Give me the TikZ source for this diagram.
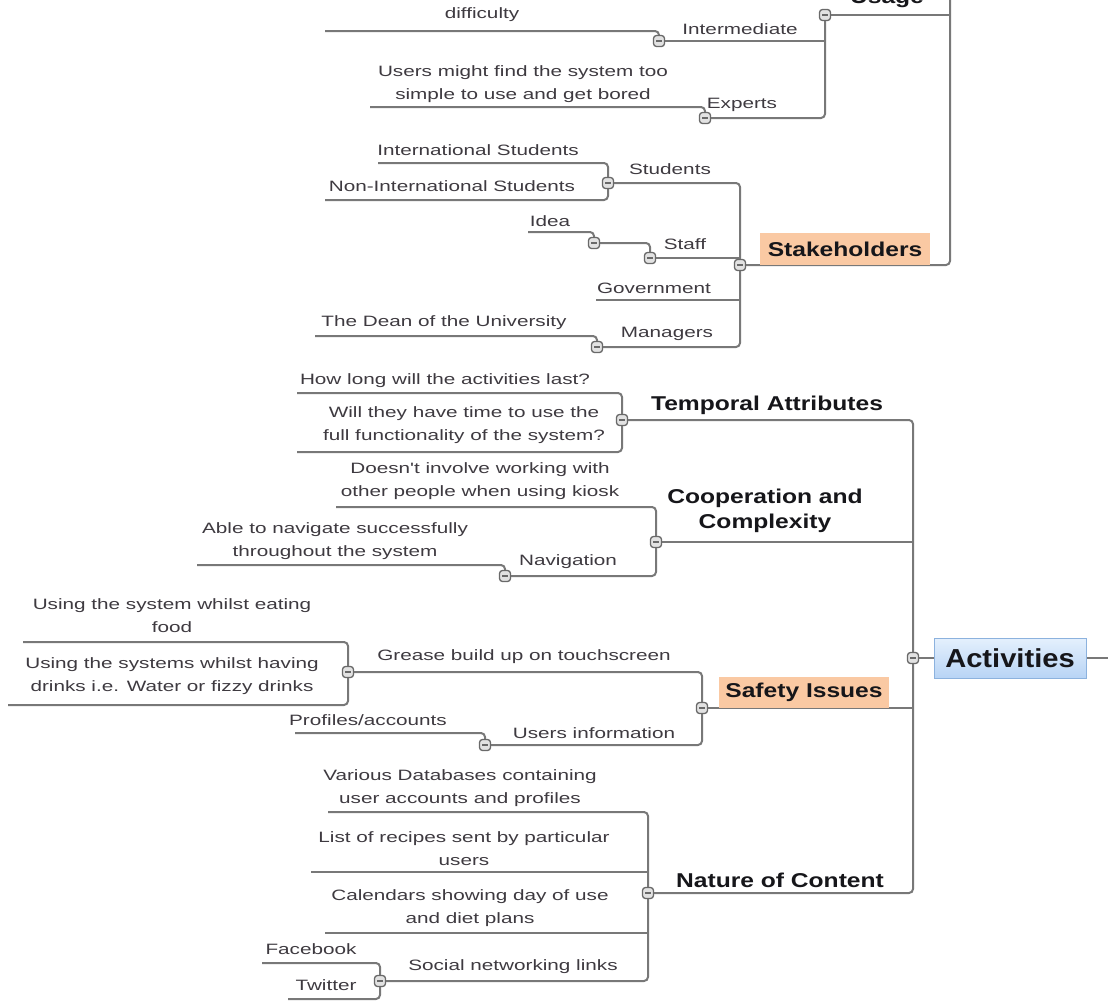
\documentclass[tikz,border=0pt]{standalone}
\usepackage{fontspec}
\newfontfamily\lblfont[FakeStretch=1.38]{Liberation Sans}
\newfontfamily\hdfont[FakeStretch=1.23]{Liberation Sans}
\newfontfamily\actfont[FakeStretch=1.12]{Liberation Sans}
\definecolor{linec}{RGB}{120,120,120}
\definecolor{labelc}{RGB}{62,58,64}
\definecolor{headc}{RGB}{22,22,26}
\definecolor{peach}{RGB}{250,201,163}
\definecolor{btnfill}{RGB}{226,226,226}
\definecolor{btnline}{RGB}{105,105,105}
\definecolor{acttop}{RGB}{228,240,253}
\definecolor{actbot}{RGB}{184,212,245}
\definecolor{actline}{RGB}{140,178,222}
\pgfdeclarelayer{bg}
\pgfsetlayers{bg,main}
\tikzset{
  lbl/.style={font={\fontsize{15}{23}\lblfont}, text=labelc, align=center, inner sep=0pt},
  hd/.style={font={\fontsize{20}{25}\hdfont\bfseries}, text=headc, align=center, inner sep=0pt},
  peachbox/.style={hd, fill=peach, minimum width=170pt, minimum height=32pt},
  ln/.style={draw=linec, line width=2pt, rounded corners=4pt},
  btn/.style={draw=btnline, fill=btnfill, line width=1.3pt, rounded corners=3pt,
    minimum width=11pt, minimum height=11pt, inner sep=0pt,
    path picture={\draw[btnline, line width=1.2pt]
      ([xshift=-2.8pt]path picture bounding box.center) --
      ([xshift=2.8pt]path picture bounding box.center);}},
}
\begin{document}
\begin{tikzpicture}[x=1pt,y=-1pt]
\useasboundingbox (0,0) rectangle (1108,1001);
\clip (0,0) rectangle (1108,1001);
\begin{pgfonlayer}{bg}
  \fill[white] (0,0) rectangle (1108,1001);
\end{pgfonlayer}

% ---------- collapse buttons ----------
\node[btn] (bUsage)  at (825,15)  {};
\node[btn] (bInter)  at (659,41)  {};
\node[btn] (bExp)    at (705,118) {};
\node[btn] (bStud)   at (608,183) {};
\node[btn] (bIdea)   at (594,243) {};
\node[btn] (bStaff)  at (650,258) {};
\node[btn] (bStake)  at (740,265) {};
\node[btn] (bMgr)    at (597,347) {};
\node[btn] (bTemp)   at (622,420) {};
\node[btn] (bCoop)   at (656,542) {};
\node[btn] (bNav)    at (505,576) {};
\node[btn] (bAct)    at (913,658) {};
\node[btn] (bGrease) at (348,672) {};
\node[btn] (bSafety) at (702,708) {};
\node[btn] (bUsers)  at (485,745) {};
\node[btn] (bNature) at (648,893) {};
\node[btn] (bSocial) at (380,981) {};

% ---------- topic labels ----------
\node[hd, anchor=base] (usage) at (887,3) {Usage};
\node[lbl] (diff)  at (482,15)  {difficulty};
\node[lbl] (inter) at (740,29)  {Intermediate};
\node[lbl] (bored) at (523,84)  {Users might find the system too\\simple to use and get bored};
\node[lbl] (exp)   at (742,105) {Experts};

\node[lbl] (intl)  at (478,150) {International Students};
\node[lbl] (stud)  at (670,169) {Students};
\node[lbl] (nonintl) at (452,186) {Non-International Students};
\node[lbl] (idea)  at (550,221) {Idea};
\node[lbl] (staff) at (685,244) {Staff};
\node[peachbox] (stake) at (845,249) {Stakeholders};
\node[lbl] (gov)   at (654,288) {Government};
\node[lbl] (dean)  at (444,323) {The Dean of the University};
\node[lbl] (mgr)   at (667,334) {Managers};

\node[lbl] (howlong) at (445,381) {How long will the activities last?};
\node[lbl] (time)  at (464,425) {Will they have time to use the\\full functionality of the system?};
\node[hd]  (temp)  at (767,405) {Temporal Attributes};

\node[lbl] (alone) at (480,481) {Doesn't involve working with\\other people when using kiosk};
\node[hd]  (coop)  at (765,511) {Cooperation and\\Complexity};
\node[lbl] (able)  at (335,541) {Able to navigate successfully\\throughout the system};
\node[lbl] (nav)   at (568,562) {Navigation};

\node[lbl] (food)  at (172,616) {Using the system whilst eating\\food};
\node[lbl] (drink) at (172,676) {Using the systems whilst having\\drinks i.e. Water or fizzy drinks};
\node[lbl] (grease) at (524,657) {Grease build up on touchscreen};
\node[peachbox, minimum height=31pt] (safety) at (804,692) {Safety Issues};
\node[lbl] (prof)  at (368,720) {Profiles/accounts};
\node[lbl] (uinfo) at (594,733) {Users information};

\node[font={\fontsize{26}{30}\actfont\bfseries}, text=headc, inner sep=0pt,
      draw=actline, line width=1pt, top color=acttop, bottom color=actbot,
      minimum width=152pt, minimum height=40pt] (act) at (1010,658) {Activities};

\node[lbl] (db)    at (460,788) {Various Databases containing\\user accounts and profiles};
\node[lbl] (recipe) at (464,849) {List of recipes sent by particular\\users};
\node[lbl] (cal)   at (470,908) {Calendars showing day of use\\and diet plans};
\node[hd]  (nature) at (780,880) {Nature of Content};
\node[lbl] (fb)    at (311,949) {Facebook};
\node[lbl] (social) at (513,967) {Social networking links};
\node[lbl] (tw)    at (326,985) {Twitter};

% ---------- free ends of underlines ----------
\coordinate (topR)   at (950,-10);
\coordinate (usageR) at (950,15);
\coordinate (interR) at (825,41);
\coordinate (diffL)  at (325,31);
\coordinate (boredL) at (370,107);
\coordinate (intlL)  at (378,163);
\coordinate (nonL)   at (325,200);
\coordinate (ideaL)  at (528,232);
\coordinate (staffR) at (740,258);
\coordinate (govL)   at (596,300);
\coordinate (govR)   at (740,300);
\coordinate (deanL)  at (315,336);
\coordinate (howL)   at (297,393);
\coordinate (timeL)  at (297,452);
\coordinate (coopR)  at (913,542);
\coordinate (aloneL) at (336,507);
\coordinate (ableL)  at (197,565);
\coordinate (foodL)  at (23,642);
\coordinate (drinkL) at (8,705);
\coordinate (safeR)  at (913,708);
\coordinate (profL)  at (295,733);
\coordinate (actR)   at (1115,658);
\coordinate (dbL)    at (328,812);
\coordinate (recL)   at (311,872);
\coordinate (recR)   at (648,872);
\coordinate (calL)   at (325,933);
\coordinate (calR)   at (648,933);
\coordinate (fbL)    at (262,963);
\coordinate (twL)    at (288,999);

% ---------- connectors and underlines ----------
\begin{pgfonlayer}{bg}
  % Usage branch
  \draw[ln] (bStake.east) -| (topR);
  \draw[ln] (bUsage.east) -- (usageR);
  \draw[ln] (bUsage.south) |- (bExp.east);
  \draw[ln] (bInter.east) -- (interR);
  \draw[ln] (diffL) -| (bInter.north);
  \draw[ln] (boredL) -| (bExp.north);
  % Stakeholders branch
  \draw[ln] (bStud.east) -| (bStake.north);
  \draw[ln] (bMgr.east) -| (bStake.south);
  \draw[ln] (intlL) -| (bStud.north);
  \draw[ln] (nonL) -| (bStud.south);
  \draw[ln] (bStaff.east) -- (staffR);
  \draw[ln] (ideaL) -| (bIdea.north);
  \draw[ln] (bIdea.east) -| (bStaff.north);
  \draw[ln] (govL) -- (govR);
  \draw[ln] (deanL) -| (bMgr.north);
  % Activities trunk
  \draw[ln] (bAct.east) -- (act.west);
  \draw[ln] (act.east) -- (actR);
  \draw[ln] (bTemp.east) -| (bAct.north);
  \draw[ln] (bNature.east) -| (bAct.south);
  \draw[ln] (bCoop.east) -- (coopR);
  \draw[ln] (bSafety.east) -- (safeR);
  % Temporal Attributes
  \draw[ln] (howL) -| (bTemp.north);
  \draw[ln] (timeL) -| (bTemp.south);
  % Cooperation and Complexity
  \draw[ln] (aloneL) -| (bCoop.north);
  \draw[ln] (bNav.east) -| (bCoop.south);
  \draw[ln] (ableL) -| (bNav.north);
  % Safety Issues
  \draw[ln] (bGrease.east) -| (bSafety.north);
  \draw[ln] (bUsers.east) -| (bSafety.south);
  \draw[ln] (foodL) -| (bGrease.north);
  \draw[ln] (drinkL) -| (bGrease.south);
  \draw[ln] (profL) -| (bUsers.north);
  % Nature of Content
  \draw[ln] (dbL) -| (bNature.north);
  \draw[ln] (recL) -- (recR);
  \draw[ln] (calL) -- (calR);
  \draw[ln] (bSocial.east) -| (bNature.south);
  \draw[ln] (fbL) -| (bSocial.north);
  \draw[ln] (twL) -| (bSocial.south);
\end{pgfonlayer}
\end{tikzpicture}
\end{document}
